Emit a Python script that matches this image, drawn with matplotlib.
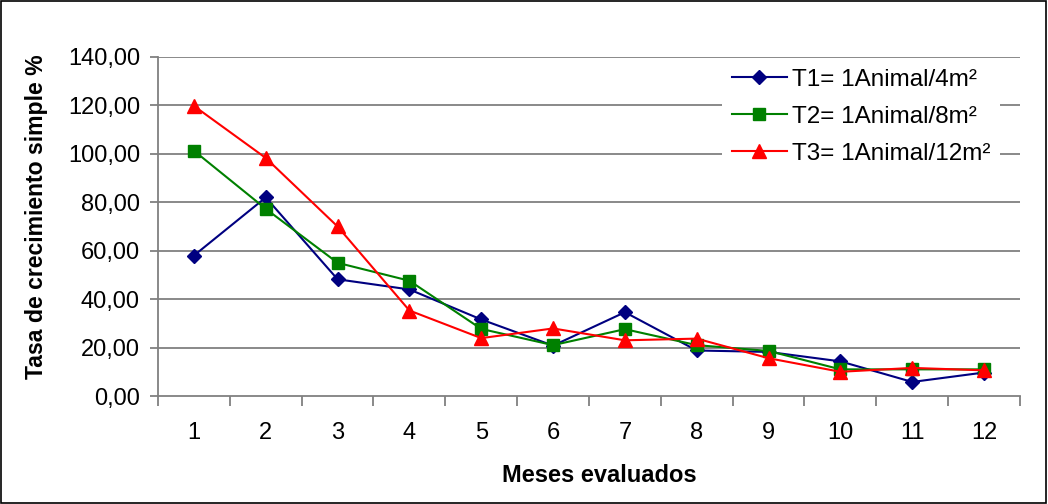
import matplotlib
matplotlib.use("Agg")
import matplotlib.pyplot as plt
from matplotlib.ticker import FuncFormatter, FixedLocator
from matplotlib.patches import Rectangle

plt.rcParams['font.family'] = ['Liberation Sans', 'DejaVu Sans']

months = [1, 2, 3, 4, 5, 6, 7, 8, 9, 10, 11, 12]
t1 = [58.0, 82.0, 48.2, 44.0, 31.6, 20.8, 34.6, 18.8, 18.2, 14.3, 5.8, 9.7]
t2 = [101.3, 77.3, 55.0, 47.6, 27.7, 21.0, 27.6, 21.0, 18.6, 11.0, 11.0, 11.0]
t3 = [119.8, 98.3, 70.0, 35.3, 23.9, 27.9, 23.0, 23.7, 15.6, 10.0, 11.6, 10.6]
labels = ["T1= 1Animal/4m²", "T2= 1Animal/8m²", "T3= 1Animal/12m²"]
yticks = [0, 20, 40, 60, 80, 100, 120, 140]

FS = 17
fig = plt.figure(figsize=(10.48, 5.04), dpi=100)
ax = fig.add_axes([158/1048, 1-396/504, (1020-158)/1048, (396-57)/504])

grid_c = '#808080'
for y in yticks[1:]:
    ax.axhline(y, color=grid_c, lw=1.3, zorder=1)

l1, = ax.plot(months, t1, color='#000080', marker='D', ms=7.5, lw=1.5, zorder=3)
l2, = ax.plot(months, t2, color='#008000', marker='s', ms=8, lw=1.5, zorder=3)
l3, = ax.plot(months, t3, color='#FF0000', marker='^', ms=9.5, lw=1.5, zorder=3)

ax.set_xlim(0.5, 12.5)
ax.set_ylim(0, 140)
ax.set_xticks(months)
ax.set_xticklabels([str(m) for m in months])
ax.xaxis.set_minor_locator(FixedLocator([m + 0.5 for m in range(0, 13)]))
ax.tick_params(axis='x', which='major', length=0, pad=19, labelsize=FS)
ax.tick_params(axis='x', which='minor', length=7, color=grid_c, width=1.3, direction='out')
ax.set_yticks(yticks)
ax.yaxis.set_major_formatter(FuncFormatter(lambda v, p: f"{v:.2f}".replace('.', ',')))
ax.tick_params(axis='y', length=6, color=grid_c, width=1.3, labelsize=FS, pad=7)

for s in ['top', 'right']:
    ax.spines[s].set_visible(False)
for s in ['left', 'bottom']:
    ax.spines[s].set_color(grid_c)
    ax.spines[s].set_linewidth(1.3)

fig.text(37/1048, 1-217/504, "Tasa de crecimiento simple %", rotation=90,
         ha='center', va='center', fontsize=16.6, fontweight='bold')
fig.text(599.5/1048, 1-476/504, "Meses evaluados", ha='center', va='center',
         fontsize=17, fontweight='bold')

LFS = 17.5
leg = ax.legend([l1, l2, l3], labels, loc='upper left',
                bbox_to_anchor=(710/1048, 1-47/504), bbox_transform=fig.transFigure,
                frameon=True, fontsize=LFS, handlelength=2.26, handletextpad=0.2,
                labelspacing=0.61, borderpad=0.4, fancybox=False)
leg.get_frame().set_facecolor('white')
leg.get_frame().set_edgecolor('none')
leg.get_frame().set_alpha(1)
leg.set_zorder(5)

fig.patches.append(Rectangle((0.0005, 0.001), 0.998, 0.997, transform=fig.transFigure,
                             fill=False, edgecolor='black', lw=1.2))

fig.savefig("out.png", dpi=100)
